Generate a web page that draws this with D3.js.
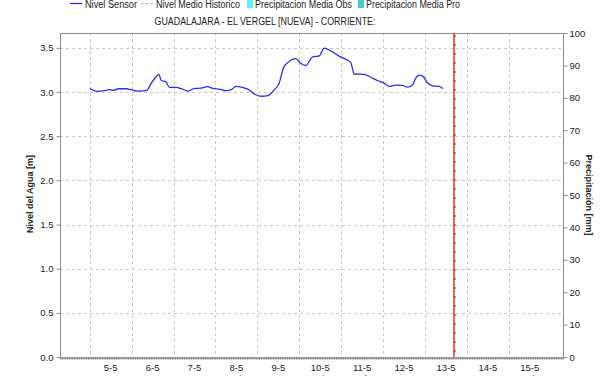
<!DOCTYPE html>
<html>
<head>
<meta charset="utf-8">
<script src="https://cdn.jsdelivr.net/npm/d3@7"></script>
<style>
  html, body { margin: 0; padding: 0; background: #fff; }
  svg { display: block; font-family: "Liberation Sans", Arial, sans-serif; }
</style>
</head>
<body>
<svg id="chart" width="615" height="376"></svg>
<script>
// Water level readings (m), station GUADALAJARA - EL VERGEL [NUEVA]
const sensorTimes = [
  "2024-05-05 00:00", "2024-05-05 04:30", "2024-05-05 08:30", "2024-05-05 11:30",
  "2024-05-05 13:30", "2024-05-05 16:30", "2024-05-05 21:00", "2024-05-05 23:45",
  "2024-05-06 03:30", "2024-05-06 08:30", "2024-05-06 11:15", "2024-05-06 13:45",
  "2024-05-06 15:35", "2024-05-06 17:00", "2024-05-06 19:30", "2024-05-06 21:45",
  "2024-05-07 01:30", "2024-05-07 04:30", "2024-05-07 08:15", "2024-05-07 12:00",
  "2024-05-07 15:45", "2024-05-07 19:30", "2024-05-07 22:30", "2024-05-08 02:15",
  "2024-05-08 06:00", "2024-05-08 09:00", "2024-05-08 11:45", "2024-05-08 15:30",
  "2024-05-08 18:30", "2024-05-08 22:15", "2024-05-09 02:00", "2024-05-09 06:00",
  "2024-05-09 09:45", "2024-05-09 12:30", "2024-05-09 15:00", "2024-05-09 17:15",
  "2024-05-09 22:00", "2024-05-10 01:00", "2024-05-10 03:45", "2024-05-10 07:30",
  "2024-05-10 11:30", "2024-05-10 14:15", "2024-05-10 18:15", "2024-05-10 23:00",
  "2024-05-11 02:45", "2024-05-11 05:30", "2024-05-11 07:25", "2024-05-11 13:00",
  "2024-05-11 17:00", "2024-05-11 20:45", "2024-05-12 00:30", "2024-05-12 03:30",
  "2024-05-12 07:15", "2024-05-12 11:00", "2024-05-12 14:00", "2024-05-12 16:45",
  "2024-05-12 18:40", "2024-05-12 20:30", "2024-05-12 23:00", "2024-05-13 01:15",
  "2024-05-13 04:15", "2024-05-13 08:00", "2024-05-13 10:15"
];
const sensorLevels = [
  3.04, 3.007, 3.015, 3.026,
  3.018, 3.037, 3.037, 3.026,
  3.01, 3.015, 3.10, 3.167,
  3.20, 3.13, 3.118, 3.052,
  3.052, 3.037, 3.011, 3.04,
  3.044, 3.06, 3.04, 3.033,
  3.015, 3.026, 3.063, 3.052,
  3.033, 2.978, 2.952, 2.96,
  3.026, 3.10, 3.278, 3.33,
  3.378, 3.322, 3.30, 3.396,
  3.41, 3.496, 3.463, 3.404,
  3.37, 3.333, 3.204, 3.20,
  3.167, 3.13, 3.10, 3.063,
  3.078, 3.074, 3.056, 3.08,
  3.155, 3.19, 3.174, 3.107,
  3.07, 3.063, 3.04
];

// Axis ticks
const levelTicks = [0, 0.5, 1.0, 1.5, 2.0, 2.5, 3.0, 3.5];
const rainTicks = [0, 10, 20, 30, 40, 50, 60, 70, 80, 90, 100];
const dayLabels = ["5-5", "6-5", "7-5", "8-5", "9-5", "10-5", "11-5", "12-5", "13-5", "14-5", "15-5"];
const weekdayLabels = ["Do", "Lu", "Ma", "Mi", "Ju", "Vi", "Sá", "Do", "Lu", "Ma", "Mi"];
const dayStarts = ["2024-05-05", "2024-05-06", "2024-05-07", "2024-05-08", "2024-05-09", "2024-05-10",
                   "2024-05-11", "2024-05-12", "2024-05-13", "2024-05-14", "2024-05-15"];
const timeRange = ["2024-05-04 07:00", "2024-05-16 07:00"];
const nowTime = "2024-05-13 16:30";

const legendItems = [
  { label: "Nivel Sensor", kind: "line", color: "#1f1fe6", x: 70, w: 52 },
  { label: "Nivel Medio Historico", kind: "dash", color: "#b0b0b0", x: 141, w: 84 },
  { label: "Precipitacion Media Obs", kind: "box", color: "#5ef2f2", x: 247, w: 97 },
  { label: "Precipitacion Media Pro", kind: "box", color: "#44c9c9", x: 358, w: 94 }
];

const parseT = d3.timeParse("%Y-%m-%d %H:%M");
const parseD = d3.timeParse("%Y-%m-%d");

const svg = d3.select("#chart");
const m = { left: 60, right: 563, top: 33, bottom: 357 };

const x = d3.scaleTime().domain(timeRange.map(parseT)).range([m.left, m.right]);
const yL = d3.scaleLinear().domain([0, 3.668]).range([m.bottom, m.top]);
const yR = d3.scaleLinear().domain([0, 100]).range([m.bottom, m.top]);

const gridColor = "#c8c8c8";
const axisColor = "#8a8a8a";
const textColor = "#222";

// grid
const grid = svg.append("g");
grid.selectAll("line.h").data(levelTicks.filter(d => d > 0)).join("line")
  .attr("x1", m.left).attr("x2", m.right)
  .attr("y1", d => Math.round(yL(d)) + 0.5).attr("y2", d => Math.round(yL(d)) + 0.5)
  .attr("stroke", gridColor).attr("stroke-dasharray", "3,3");
grid.selectAll("line.v").data(dayStarts.map(parseD)).join("line")
  .attr("x1", d => Math.round(x(d)) + 0.5).attr("x2", d => Math.round(x(d)) + 0.5)
  .attr("y1", m.top).attr("y2", m.bottom)
  .attr("stroke", gridColor).attr("stroke-dasharray", "3,3");

// frame
svg.append("line").attr("x1", m.left).attr("x2", m.right).attr("y1", m.top + 0.5).attr("y2", m.top + 0.5)
  .attr("stroke", axisColor);

// left axis
const gL = svg.append("g").attr("transform", `translate(${m.left + 0.5},0)`)
  .call(d3.axisLeft(yL).tickValues(levelTicks).tickFormat(d3.format(".1f")).tickSize(4).tickPadding(3).tickSizeOuter(0));
gL.select(".domain").attr("stroke", axisColor).attr("d", `M0,${m.top}V${m.bottom}`);
gL.selectAll(".tick line").attr("stroke", axisColor);
gL.selectAll(".tick text").attr("fill", textColor).style("font-size", "9.5px");

// right axis
const gR = svg.append("g").attr("transform", `translate(${m.right + 0.5},0)`)
  .call(d3.axisRight(yR).tickValues(rainTicks).tickSize(4).tickPadding(2).tickSizeOuter(0));
gR.select(".domain").attr("stroke", axisColor).attr("d", `M0,${m.top}V${m.bottom}`);
gR.selectAll(".tick line").attr("stroke", axisColor);
gR.selectAll(".tick text").attr("fill", textColor).style("font-size", "9.5px");

// bottom axis with hourly minor ticks
const gB = svg.append("g").attr("transform", `translate(0,${m.bottom + 0.5})`)
  .call(d3.axisBottom(x).ticks(d3.timeHour.every(1)).tickSize(2).tickFormat("").tickSizeOuter(0));
gB.select(".domain").attr("stroke", "#666");
gB.selectAll(".tick line").attr("stroke", "#777");

// day labels centred on noon, weekday names on a second row
const noons = dayStarts.map(d => d3.timeHour.offset(parseD(d), 12));
svg.append("g").selectAll("text").data(noons).join("text")
  .attr("x", d => x(d)).attr("y", 371)
  .attr("text-anchor", "middle").attr("fill", textColor).style("font-size", "9.5px")
  .text((d, i) => dayLabels[i]);
svg.append("g").selectAll("text").data(noons).join("text")
  .attr("x", d => x(d)).attr("y", 381.5)
  .attr("text-anchor", "middle").attr("fill", textColor).style("font-size", "9.5px")
  .text((d, i) => weekdayLabels[i]);

// axis titles
svg.append("text").attr("transform", "translate(33,194) rotate(-90)")
  .attr("text-anchor", "middle").attr("fill", textColor)
  .style("font-size", "9px").style("font-weight", "bold").text("Nivel del Agua [m]");
svg.append("text").attr("transform", "translate(586,195) rotate(90)")
  .attr("text-anchor", "middle").attr("fill", textColor)
  .style("font-size", "9px").style("font-weight", "bold").text("Precipitación [mm]");

// sensor level line
const sensor = sensorTimes.map((t, i) => ({ t: parseT(t), v: sensorLevels[i] }));
svg.append("path").datum(sensor)
  .attr("fill", "none").attr("stroke", "#2b2bf5").attr("stroke-width", 1.3)
  .attr("stroke-linejoin", "round")
  .attr("d", d3.line().x(d => x(d.t)).y(d => yL(d.v)).curve(d3.curveMonotoneX));

// current time marker
const nx = Math.round(x(parseT(nowTime)));
svg.append("line").attr("x1", nx).attr("x2", nx).attr("y1", m.top).attr("y2", m.bottom)
  .attr("stroke", "#e83a3a").attr("stroke-width", 1.6);
svg.append("line").attr("x1", nx + 1).attr("x2", nx + 1).attr("y1", m.top + 2).attr("y2", m.bottom)
  .attr("stroke", "#a02020").attr("stroke-width", 1).attr("stroke-dasharray", "2,7");

// title
svg.append("text").attr("x", 265).attr("y", 25).attr("text-anchor", "middle")
  .attr("fill", textColor).style("font-size", "10px")
  .attr("textLength", 221).attr("lengthAdjust", "spacingAndGlyphs")
  .text("GUADALAJARA - EL VERGEL [NUEVA] - CORRIENTE:");

// legend
const lg = svg.append("g");
legendItems.forEach(it => {
  const x0 = it.x;
  if (it.kind === "line") {
    lg.append("line").attr("x1", x0).attr("x2", x0 + 12).attr("y1", 3.5).attr("y2", 3.5)
      .attr("stroke", it.color).attr("stroke-width", 1.2);
  } else if (it.kind === "dash") {
    lg.append("line").attr("x1", x0).attr("x2", x0 + 12).attr("y1", 3.5).attr("y2", 3.5)
      .attr("stroke", it.color).attr("stroke-width", 1.2).attr("stroke-dasharray", "2,3");
  } else {
    lg.append("rect").attr("x", x0).attr("y", -1).attr("width", 6).attr("height", 9).attr("fill", it.color);
  }
  lg.append("text").attr("x", x0 + (it.kind === "box" ? 8 : 15)).attr("y", 7.5)
    .attr("fill", textColor).style("font-size", "10px")
    .attr("textLength", it.w).attr("lengthAdjust", "spacingAndGlyphs")
    .text(it.label);
});
</script>
</body>
</html>
